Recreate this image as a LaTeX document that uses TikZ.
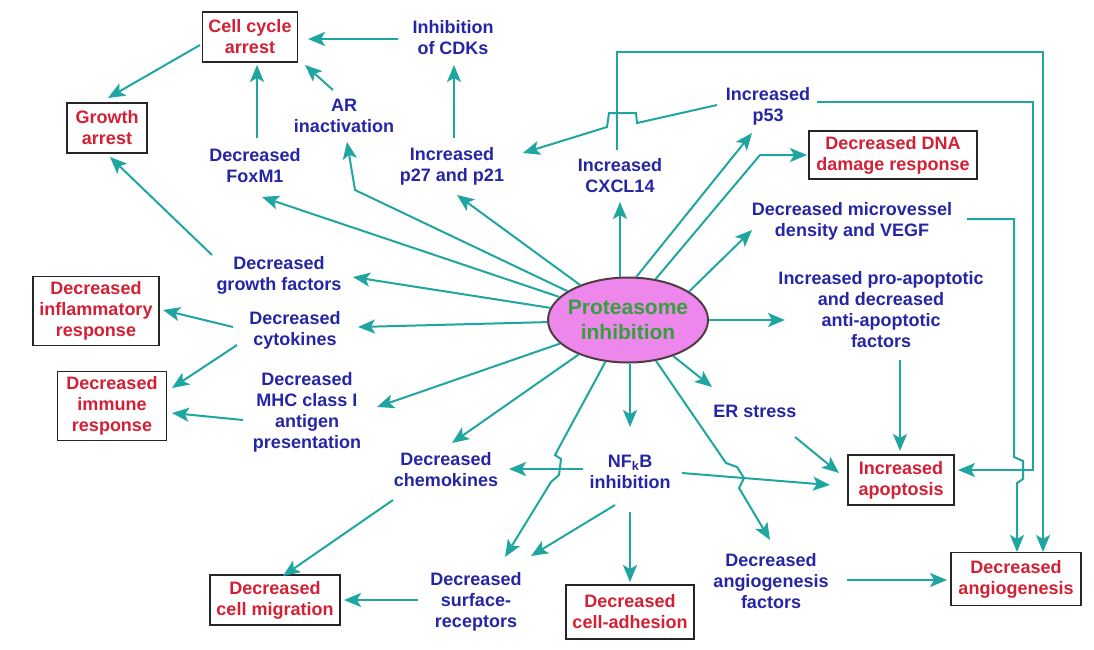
\documentclass[tikz,border=0pt]{standalone}
\usepackage{fontspec}
\setmainfont{Liberation Sans}
\usetikzlibrary{arrows.meta,shapes.geometric}
\definecolor{tblue}{RGB}{38,38,165}
\definecolor{tred}{RGB}{212,32,52}
\definecolor{tteal}{RGB}{32,166,160}
\definecolor{tpink}{RGB}{238,135,236}
\definecolor{tgreen}{RGB}{52,160,60}
\begin{document}
\begin{tikzpicture}[x=1pt,y=-1pt,
  btxt/.style={text=tblue, align=center, font=\bfseries\fontsize{18}{21}\selectfont, inner sep=2pt},
  rbox/.style 2 args={draw=black!85, line width=1.8pt, fill=white, text=tred, align=center,
     font=\bfseries\fontsize{18}{21}\selectfont, inner xsep=5pt, inner ysep=4pt,
     minimum width=#1, minimum height=#2},
  con/.style={draw=tteal, line width=2pt},
  arr/.style={con, -{Stealth[length=17pt,width=14pt,inset=4pt]}},
  ellbox/.style={ellipse, draw=black!80!magenta, line width=2pt, fill=tpink, minimum width=160pt, minimum height=85pt, inner sep=0pt},
  etxt/.style={text=tgreen, align=center, font=\bfseries\fontsize{21}{25}\selectfont, inner sep=0pt}
]
\fill[white] (0,0) rectangle (1094,649);
\useasboundingbox (0,0) rectangle (1094,649);

% ---------- central ellipse ----------
\node[ellbox] (ell) at (628,320) {};
\node[etxt] (elltxt) at (ell) {Proteasome\\inhibition};

% ---------- outcome boxes ----------
\node[rbox={95pt}{50pt}] (cca) at (250,37) {Cell cycle\\arrest};
\node[rbox={80pt}{50pt}] (ga) at (107,128) {Growth\\arrest};
\node[rbox={168pt}{48pt}] (dna) at (893,155) {Decreased DNA\\damage response};
\node[rbox={126pt}{69pt}] (infl) at (96,311) {Decreased\\inflammatory\\response};
\node[rbox={109pt}{69pt}] (imm) at (112,406) {Decreased\\immune\\response};
\node[rbox={130pt}{50pt}] (migr) at (275,600) {Decreased\\cell migration};
\node[rbox={128pt}{54pt}] (adh) at (630,612) {Decreased\\cell-adhesion};
\node[rbox={106pt}{50pt}] (apop) at (901,480) {Increased\\apoptosis};
\node[rbox={130pt}{53pt}] (angio) at (1016,579) {Decreased\\angiogenesis};

% ---------- intermediate texts ----------
\node[btxt] (cdk) at (453,38) {Inhibition\\of CDKs};
\node[btxt] (ar) at (344,116) {AR\\inactivation};
\node[btxt] (fox) at (255,166) {Decreased\\FoxM1};
\node[btxt] (p27) at (452,166) {Increased\\p27 and p21};
\node[btxt] (cx) at (620,176) {Increased\\CXCL14};
\node[btxt] (p53) at (768,106) {Increased\\p53};
\node[btxt] (mv) at (852,221) {Decreased microvessel\\density and VEGF};
\node[btxt] (fac) at (881,310) {Increased pro-apoptotic\\and decreased\\anti-apoptotic\\factors};
\node[btxt] (er) at (755,411) {ER stress};
\node[btxt] (nf) at (630,472) {NF\textsubscript{k}B\\inhibition};
\node[btxt] (chem) at (446,470) {Decreased\\chemokines};
\node[btxt] (surf) at (476,602) {Decreased\\surface-\\receptors};
\node[btxt] (agf) at (771,581) {Decreased\\angiogenesis\\factors};
\node[btxt] (gf) at (279,275) {Decreased\\growth factors};
\node[btxt] (cyt) at (295,330) {Decreased\\cytokines};
\node[btxt] (mhc) at (307,412) {Decreased\\MHC class I\\antigen\\presentation};

% ---------- connector end points ----------
\coordinate (cdkW) at (398,39);   \coordinate (ccaE) at (308,39);
\coordinate (foxN) at (257,138);  \coordinate (ccaS1) at (257,65);
\coordinate (arN) at (333,90);    \coordinate (ccaS2) at (305,65);
\coordinate (p27N) at (454,138);  \coordinate (cdkS) at (454,65);
\coordinate (ccaW) at (200,45);   \coordinate (gaN) at (108,98);
\coordinate (gfNW) at (212,255);  \coordinate (gaS) at (110,157);

\coordinate (tFox) at (262,197);
\coordinate (bAR) at (355,190);   \coordinate (tAR) at (347,142);
\coordinate (tP27) at (457,195);
\coordinate (tCX) at (620,202);
\coordinate (tP53) at (752,133);
\coordinate (bDNA) at (760,155);  \coordinate (tDNA) at (807,155);
\coordinate (tMV) at (752,230);
\coordinate (tFac) at (785,320);
\coordinate (tER) at (712,387);
\coordinate (tNF) at (630,427);
\coordinate (tAGF) at (770,540);
\coordinate (tSurf1) at (505,557);
\coordinate (tChem) at (452,443);
\coordinate (tMHC) at (377,407);
\coordinate (tCyt) at (358,327);
\coordinate (tGF) at (353,277);

\coordinate (cytW1) at (233,327); \coordinate (inflE) at (163,310);
\coordinate (cytW2) at (237,345); \coordinate (immE1) at (172,388);
\coordinate (mhcW) at (243,420);  \coordinate (immE2) at (172,413);

\coordinate (p53W) at (717,105);  \coordinate (tP27b) at (523,153);
\coordinate (cxN) at (617,150);   \coordinate (angN2) at (1043,552);
\coordinate (p53E) at (817,102);  \coordinate (apopE) at (958,470);
\coordinate (mvE) at (967,219);   \coordinate (angN1) at (1017,552);
\coordinate (facS) at (900,360);  \coordinate (apopN) at (900,451);
\coordinate (erSE) at (795,437);  \coordinate (apopW1) at (839,473);
\coordinate (nfE) at (682,473);   \coordinate (apopW2) at (830,485);
\coordinate (nfW) at (583,469);   \coordinate (chemE) at (509,469);
\coordinate (nfSW) at (615,505);  \coordinate (tSurf2) at (531,556);
\coordinate (nfS) at (630,512);   \coordinate (adhN) at (630,582);
\coordinate (chemS) at (393,500); \coordinate (migrN) at (283,576);
\coordinate (surfW) at (418,600); \coordinate (migrE) at (344,600);
\coordinate (agfE) at (847,580);  \coordinate (angW) at (947,580);

% ---------- connectors ----------
\draw[arr] (cdkW) -- (ccaE);
\draw[arr] (foxN) -- (ccaS1);
\draw[arr] (arN) -- (ccaS2);
\draw[arr] (p27N) -- (cdkS);
\draw[arr] (ccaW) -- (gaN);
\draw[arr] (gfNW) -- (gaS);

\draw[arr] (ell) -- (tFox);
\draw[arr] (ell) -- (bAR) -- (tAR);
\draw[arr] (ell) -- (tP27);
\draw[arr] (tCX |- ell.north) -- (tCX);
\draw[arr] (ell.79) -- (tP53);
\draw[arr] (ell.56) -- (bDNA) -- (tDNA);
\draw[arr] (ell.25) -- (tMV);
\draw[arr] (ell.east) -- (tFac);
\draw[arr] (ell) -- (tER);
\draw[arr] (tNF |- ell.south) -- (tNF);
\draw[arr] (ell) -- (726,463) -- (737,467) -- (744,478) -- (739,488) -- (tAGF);
\draw[arr] (ell) -- (555,455) -- (561,459) -- (559,475) -- (551,482) -- (tSurf1);
\draw[arr] (ell) -- (tChem);
\draw[arr] (ell) -- (tMHC);
\draw[arr] (ell) -- (tCyt);
\draw[arr] (ell) -- (tGF);

\draw[arr] (cytW1) -- (inflE);
\draw[arr] (cytW2) -- (immE1);
\draw[arr] (mhcW) -- (immE2);

\draw[arr] (p53W) -- (637,123) -- (636,113) -- (609,113) -- (607,127) -- (tP27b);
\draw[arr] (cxN) -- (617,52) -- (1043,52) -- (angN2);
\draw[arr] (p53E) -- (1033,102) -- (1033,470) -- (apopE);
\draw[arr] (mvE) -- (1014,219) -- (1014,457) -- (1023,461) -- (1023,479) -- (1017,483) -- (angN1);
\draw[arr] (facS) -- (apopN);
\draw[arr] (erSE) -- (apopW1);
\draw[arr] (nfE) -- (apopW2);
\draw[arr] (nfW) -- (chemE);
\draw[arr] (nfSW) -- (tSurf2);
\draw[arr] (nfS) -- (adhN);
\draw[arr] (chemS) -- (migrN);
\draw[arr] (surfW) -- (migrE);
\draw[arr] (agfE) -- (angW);
\end{tikzpicture}
\end{document}
